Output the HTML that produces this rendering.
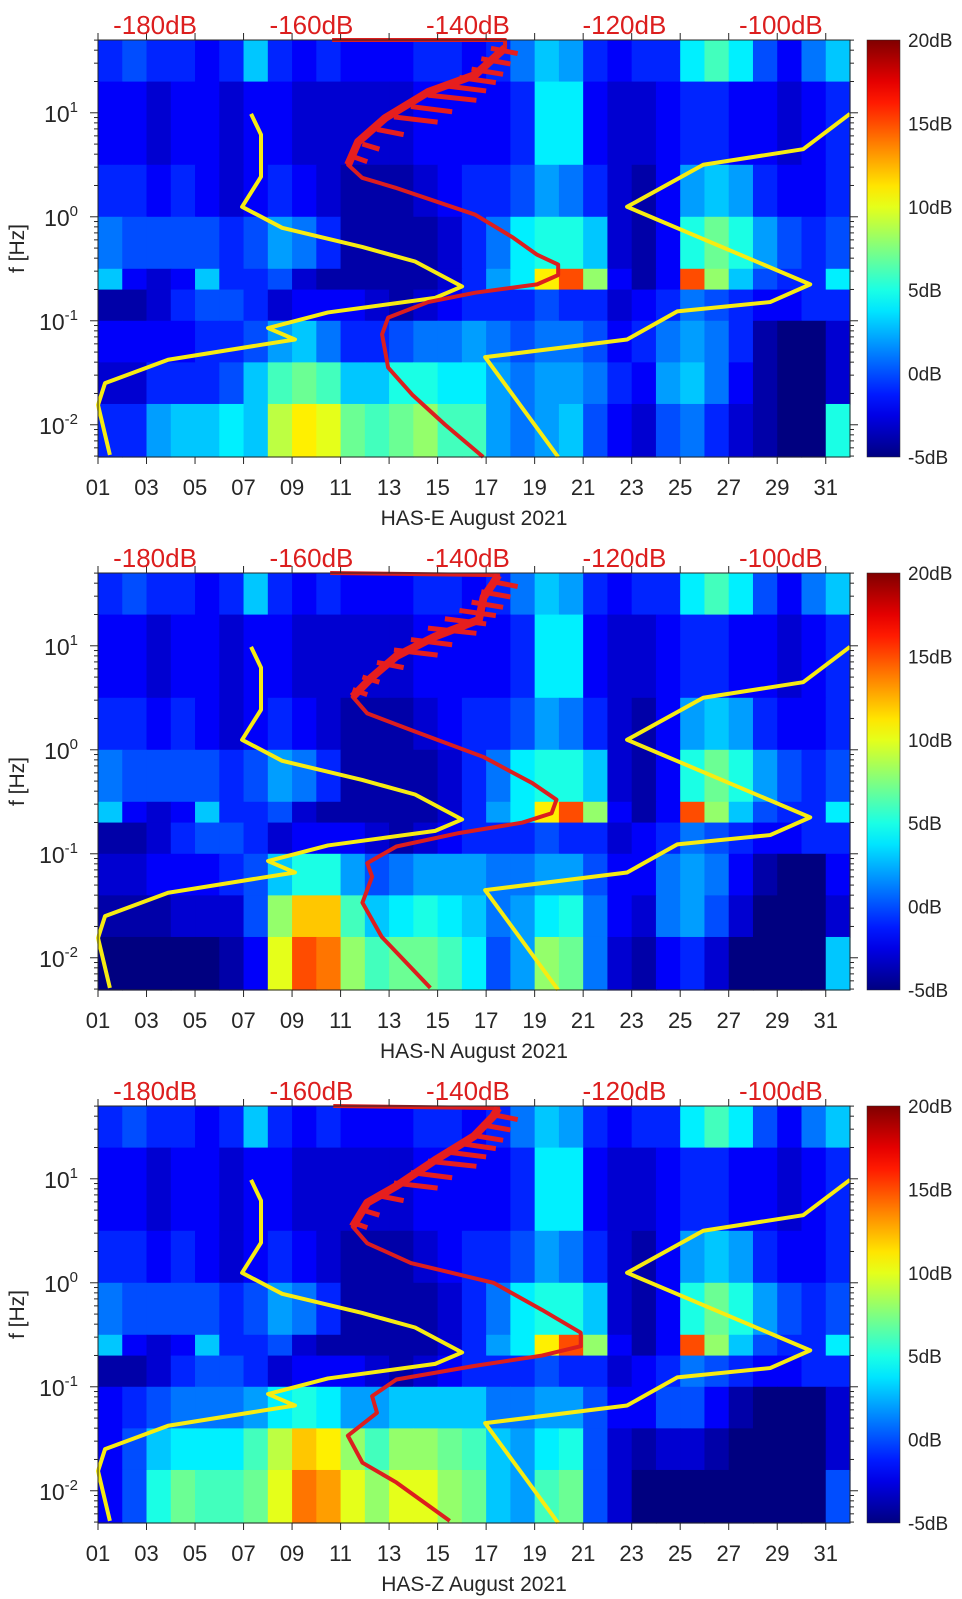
<!DOCTYPE html>
<html><head><meta charset="utf-8"><style>
html,body{margin:0;padding:0;background:#fff;}
svg{display:block;font-family:"Liberation Sans",sans-serif;}
</style></head><body>
<svg id="chart" width="962" height="1599" viewBox="0 0 962 1599" xmlns="http://www.w3.org/2000/svg"></svg>
<script>
// ---- data ----
const panelNames = ["HAS-E August 2021","HAS-N August 2021","HAS-Z August 2021"];
const xTickLabels = ["01","03","05","07","09","11","13","15","17","19","21","23","25","27","29","31"];
const xTickDays = [1,3,5,7,9,11,13,15,17,19,21,23,25,27,29,31];
const topLabels = ["-180dB","-160dB","-140dB","-120dB","-100dB"];
const topLabelDays = [3.35,9.8,16.25,22.7,29.15];
const cbLabels = ["20dB","15dB","10dB","5dB","0dB","-5dB"];
const cbValues = [20,15,10,5,0,-5];
const yTickExp = [1,0,-1,-2];
const bandEdges = [1.70,1.3,0.5,0,-0.5,-0.7,-1,-1.4,-1.8,-2.31];
// shared upper bands (dB per day column 1..31)
const bandB0 = [-1,0,-1,-1,-2,-1,3,-1,-2,-1,-2,-2,-2,-1,-1,-2,-1,1,3,2,-1,-2,-1,-1,4,6,4,0,-2,1,3];
const bandB1 = [-2,-2,-3,-2,-2,-3,-2,-2,-3,-3,-3,-3,-3,-2,-2,-2,-2,-1,4,4,-2,-3,-3,-2,-1,-1,-2,-2,-3,-2,-1];
const bandB2 = [-1,-1,-2,-1,-2,-3,-2,-1,-2,-3,-4,-4,-4,-3,-2,-1,-1,0,2,1,-1,-3,-4,-2,2,3,2,-1,-2,-2,-1];
const bandB3 = [1,0,0,0,0,-1,0,2,1,-1,-4,-4,-4,-4,-3,-1,1,4,5,5,3,-3,-4,-2,5,7,5,2,0,-1,0];
const bandB4 = [3,-2,-3,-2,3,-1,-1,0,-3,-4,-4,-4,-4,-4,-3,-1,2,4,11,15,8,-2,-4,-2,15,8,3,0,-1,-1,4];
const bandB5 = [-4,-4,-3,-1,0,0,-1,-3,-2,-2,-2,-3,-4,-3,-2,-1,-1,-1,0,-1,-1,-3,-2,-1,1,0,-1,-2,-2,-1,-1];
// panel-specific lower bands
const p1B6 = [-2,-2,-2,-2,-1,-1,0,2,3,1,-1,-1,0,1,1,2,1,0,1,1,0,-2,-1,1,2,1,-1,-4,-5,-5,-3];
const p1B7 = [-3,-3,-1,-1,-1,0,3,6,7,6,3,3,5,5,4,4,2,1,2,2,1,-1,-2,2,3,1,-2,-4,-5,-5,-3];
const p1B8 = [-1,-1,2,3,3,4,3,9,11,10,7,6,7,8,6,6,2,1,2,3,0,-2,-3,0,1,-1,-3,-4,-5,-5,5];
const p2B6 = [-3,-3,-2,-2,-2,-1,0,3,5,5,2,0,1,2,2,2,1,1,2,2,0,-2,-2,1,2,1,-2,-4,-5,-5,-2];
const p2B7 = [-4,-4,-4,-3,-3,-3,0,8,12,12,6,3,4,5,4,3,1,2,4,5,1,-2,-3,1,2,0,-3,-5,-5,-5,-3];
const p2B8 = [-5,-5,-5,-5,-5,-4,-2,10,15,14,8,6,7,7,6,4,0,2,8,7,1,-3,-4,-2,-1,-3,-5,-5,-5,-5,3];
const p3B6 = [-2,-1,0,1,1,1,2,4,5,4,2,2,3,3,3,3,1,1,2,2,0,-2,-2,0,0,-2,-4,-5,-5,-5,-3];
const p3B7 = [-2,0,3,4,4,4,6,9,12,11,8,6,8,8,7,6,3,2,4,5,0,-3,-4,-3,-3,-4,-5,-5,-5,-5,-3];
const p3B8 = [-2,0,5,7,6,6,7,10,14,13,10,8,10,10,8,7,3,2,6,7,0,-3,-5,-5,-5,-5,-5,-5,-5,-5,0];
// yellow curves (day, log10 f)
const yelLDay = [7.31,7.72,7.72,6.94,8.59,11.89,14.07,16.01,14.9,10.48,8.01,9.12,7.76,3.89,1.29,1.0,1.49];
const yelLLogf = [0.99,0.79,0.385,0.096,-0.106,-0.29,-0.43,-0.67,-0.78,-0.92,-1.07,-1.18,-1.23,-1.375,-1.6,-1.81,-2.29];
const yelRDay = [32.0,30.07,25.95,22.81,30.36,28.71,24.88,22.81,16.96,19.97];
const yelRLogf = [0.99,0.65,0.5,0.096,-0.65,-0.82,-0.91,-1.18,-1.35,-2.31];
// red curves per panel
const red1Day = [10.65,17.78,17.78,16.55,14.61,12.84,11.72,11.31,11.89,13.25,16.55,18.11,19.10,19.97,19.97,19.10,16.55,14.61,12.96,12.71,12.96,13.95,15.31,16.88];
const red1Logf = [1.70,1.70,1.625,1.365,1.20,0.95,0.72,0.50,0.375,0.28,0.02,-0.20,-0.365,-0.46,-0.56,-0.65,-0.73,-0.82,-0.97,-1.13,-1.45,-1.71,-2.0,-2.31];
const red2Day = [10.57,17.5,17.29,16.9,16.7,14.9,13.3,12.3,11.5,12.1,13.9,16.9,18.9,19.9,19.7,18.5,15.9,13.3,12.1,12.3,11.9,12.7,14.7];
const red2Logf = [1.70,1.68,1.60,1.47,1.25,1.09,0.90,0.70,0.51,0.35,0.19,-0.07,-0.32,-0.48,-0.61,-0.70,-0.80,-0.93,-1.09,-1.22,-1.47,-1.80,-2.29];
const red3Day = [10.7,17.5,17.29,16.5,14.9,13.3,12.1,11.5,12.1,13.9,17.3,19.3,20.9,20.9,19.3,16.5,13.3,12.3,12.5,11.3,11.9,13.3,15.5];
const red3Logf = [1.70,1.68,1.60,1.41,1.18,0.93,0.77,0.54,0.38,0.19,0.0,-0.26,-0.48,-0.61,-0.70,-0.80,-0.93,-1.09,-1.25,-1.47,-1.73,-1.92,-2.29];
// red fins (start day, end day, log f)
const finStart = [17.2,16.8,16.4,15.9,15.3,14.6,13.9,13.2,12.5,11.9,11.5];
const finEnd = [18.3,18.0,17.7,17.4,17.0,16.6,15.6,15.0,13.6,12.6,12.1];
const finLogf = [1.62,1.52,1.42,1.34,1.26,1.17,1.06,0.96,0.84,0.70,0.58];

// ---- layout ----
const svg = document.getElementById('chart');
const NS = "http://www.w3.org/2000/svg";
const X0 = 98, X1 = 850, H = 417, TOPS = [40,573,1106];
const CBX = 867, CBW = 33;
function xs(d){ return X0 + (d-1)*(X1-X0)/31; }
function ysf(top){ return lf => top + (1.70-lf)/4.01*H; }
function jet(v){
  let t = Math.max(0,Math.min(1,(v+5)/25));
  const c = a => Math.round(255*Math.max(0,Math.min(1,a)));
  return `rgb(${c(1.5-Math.abs(4*t-3))},${c(1.5-Math.abs(4*t-2))},${c(1.5-Math.abs(4*t-1))})`;
}
function el(tag, attrs, parent){
  const e = document.createElementNS(NS, tag);
  for (const k in attrs) e.setAttribute(k, attrs[k]);
  (parent||svg).appendChild(e); return e;
}
const defs = el('defs',{});
const grad = el('linearGradient',{id:'jetg',x1:0,y1:1,x2:0,y2:0},defs);
for (let i=0;i<=20;i++){ el('stop',{offset:(i/20),'stop-color':jet(-5+25*i/20)},grad); }

const panelBands = [
  [bandB0,bandB1,bandB2,bandB3,bandB4,bandB5,p1B6,p1B7,p1B8],
  [bandB0,bandB1,bandB2,bandB3,bandB4,bandB5,p2B6,p2B7,p2B8],
  [bandB0,bandB1,bandB2,bandB3,bandB4,bandB5,p3B6,p3B7,p3B8]];
const redDays = [red1Day,red2Day,red3Day], redLogfs = [red1Logf,red2Logf,red3Logf];

TOPS.forEach((top,pi)=>{
  const ys = ysf(top);
  const g = el('g',{});
  
  
  const hm = el('g',{},g);
  
  
  panelBands[pi].forEach((row,bi)=>{
    const yA = ys(bandEdges[bi]), yB = ys(bandEdges[bi+1]);
    row.forEach((v,di)=>{
      const r = el('rect',{x:xs(di+1),y:yA,width:(X1-X0)/31+0.6,height:yB-yA+0.6,fill:jet(v)},hm);
      
      
    });
  });
  [[yelLDay,yelLLogf],[yelRDay,yelRLogf]].forEach((c,ci)=>{
    const p = el('polyline',{points:c[0].map((d,i)=>xs(d)+','+ys(c[1][i])).join(' '),fill:'none',stroke:'#f7ec12','stroke-width':4,'stroke-linejoin':'round'},g);
    
    
  });
  const rd = redDays[pi], rl = redLogfs[pi];
  const rp = el('polyline',{points:rd.map((d,i)=>xs(d)+','+ys(rl[i])).join(' '),fill:'none',stroke:'#dc1e1e','stroke-width':4,'stroke-linejoin':'round'},g);
  
  
  const topPart = [];
  rd.forEach((d,i)=>{ if (rl[i] >= 0.45 && rl[i] < 1.69) topPart.push(xs(d)+','+ys(rl[i])); });
  const rt = el('polyline',{points:topPart.join(' '),fill:'none',stroke:'#e61e1e','stroke-width':8,'stroke-linejoin':'round'},g);
  
  
  finStart.forEach((s,i)=>{
    const f = el('line',{x1:xs(s),x2:xs(finEnd[i]),y1:ys(finLogf[i]),y2:ys(finLogf[i]-0.05),stroke:'#e61e1e','stroke-width':5},g);
    
    
  });
  const fr = el('rect',{x:X0,y:top,width:X1-X0,height:H,fill:'none',stroke:'#262626','stroke-width':1},g);
  
  
  xTickDays.forEach((d,i)=>{
    el('line',{x1:xs(d),x2:xs(d),y1:top+H,y2:top+H+7,stroke:'#262626'},g);
    el('line',{x1:xs(d),x2:xs(d),y1:top,y2:top-7,stroke:'#262626'},g);
    const t = el('text',{x:xs(d),y:top+H+38,'font-size':22,'text-anchor':'middle',fill:'#262626'},g);
    t.textContent = xTickLabels[i];
    
    
  });
  const xl = el('text',{x:474,y:top+H+68,'font-size':21,'text-anchor':'middle',fill:'#262626'},g);
  xl.textContent = panelNames[pi];
  
  
  topLabels.forEach((s,i)=>{
    const t = el('text',{x:xs(topLabelDays[i]),y:top-6,'font-size':26,'text-anchor':'middle',fill:'#dc1e1e'},g);
    t.textContent = s;
    
    
  });
  for (let e=-3;e<=1;e++){
    for (let m=1;m<=9;m++){
      const lf = e+Math.log10(m);
      if (lf>1.70||lf<-2.31) continue;
      const len = m===1?8:4;
      el('line',{x1:X0-len,x2:X0,y1:ys(lf),y2:ys(lf),stroke:'#262626'},g);
      el('line',{x1:X1,x2:X1+len,y1:ys(lf),y2:ys(lf),stroke:'#262626'},g);
    }
  }
  yTickExp.forEach(e=>{
    const t = el('text',{x:78,y:ys(e)+9,'font-size':23,'text-anchor':'end',fill:'#262626'},g);
    
    
    const a = document.createElementNS(NS,'tspan'); a.textContent='10'; t.appendChild(a);
    const b = document.createElementNS(NS,'tspan'); b.setAttribute('dy','-10'); b.setAttribute('font-size','15'); b.textContent=String(e); t.appendChild(b);
  });
  const yl = el('text',{x:24,y:top+H/2,'font-size':21,'text-anchor':'middle',fill:'#262626',transform:`rotate(-90 24 ${top+H/2})`},g);
  yl.textContent = 'f [Hz]';
  
  
  const cb = el('rect',{x:CBX,y:top,width:CBW,height:H,fill:'url(#jetg)',stroke:'#262626','stroke-width':0.5},g);
  
  
  cbValues.forEach((v,i)=>{
    const y = top + (20-v)/25*H;
    const t = el('text',{x:CBX+CBW+8,y:y+7,'font-size':19,fill:'#262626'},g);
    t.textContent = cbLabels[i];
    
    
  });
});
</script>
</body></html>
